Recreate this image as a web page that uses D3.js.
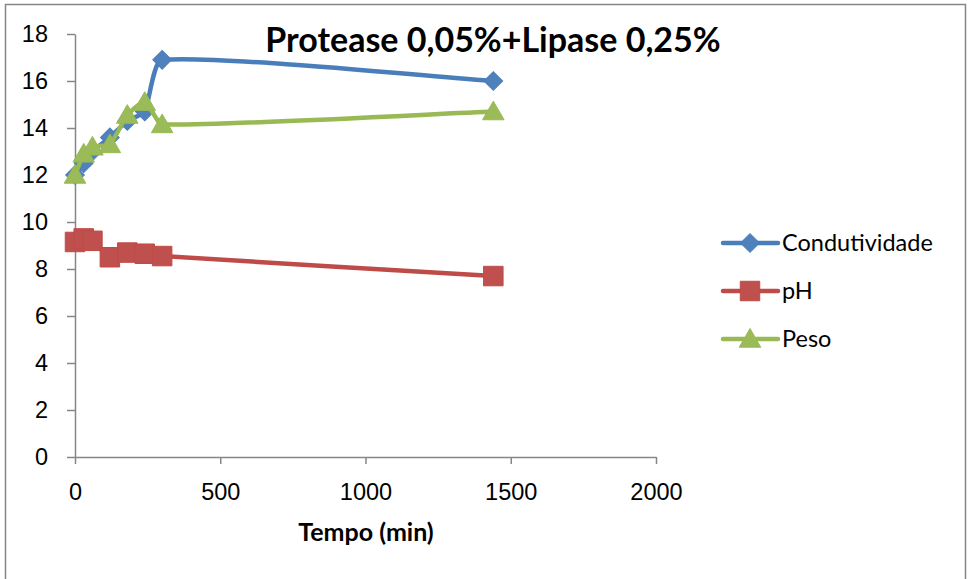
<!DOCTYPE html>
<html>
<head>
<meta charset="utf-8">
<script src="https://cdn.jsdelivr.net/npm/d3@7"></script>
<style>
	body { margin: 0; background: #fff; }
	svg { font-family: Lato, 'Open Sans', sans-serif; }
	.axis path, .axis line { stroke: #868686; stroke-width: 1.5; }
	.axis text { font-size: 23.5px; fill: #000; }
</style>
</head>
<body>
<div id="chart"></div>
<script>
var tempo = [0, 30, 60, 120, 180, 240, 300, 1440];
var condutividade = [12.0, 12.5, 13.0, 13.6, 14.3, 14.7, 16.9, 16.0];
var ph = [9.15, 9.3, 9.2, 8.5, 8.7, 8.65, 8.55, 7.7];
var peso = [12.0, 12.9, 13.2, 13.3, 14.55, 15.1, 14.15, 14.7];
var seriesNames = ['Condutividade', 'pH', 'Peso'];
var xTicks = [0, 500, 1000, 1500, 2000];
var yTicks = [0, 2, 4, 6, 8, 10, 12, 14, 16, 18];
var title = 'Protease 0,05%+Lipase 0,25%';
var xTitle = 'Tempo (min)';

var width = 970, height = 579;
var plot = { left: 75, right: 656, top: 34, bottom: 457 };

var lineColors = ['#4A7EBB', '#BE4B48', '#98B954'];
var markColors = ['#4F81BD', '#C0504D', '#9BBB59'];
var symbols = [d3.symbolSquare, d3.symbolSquare, d3.symbolTriangle];
var symSizes = [175, 380, 200];
var symRotate = [45, 0, 0];
var symShift = [0, 0, 2];

function markTransform(px, py, i) {
	return 'translate(' + px + ',' + (py + symShift[i]) + ') rotate(' + symRotate[i] + ')';
}

// excel-like smoothing: tangent along neighbours, handle length scaled by own segment
function smoothPath(pts) {
	var k = 1 / 6;
	function tangent(i) {
		var a = pts[Math.max(i - 1, 0)], b = pts[Math.min(i + 1, pts.length - 1)];
		var dx = b[0] - a[0], dy = b[1] - a[1];
		var len = Math.sqrt(dx * dx + dy * dy) || 1;
		return [dx / len, dy / len];
	}
	var p = d3.path();
	p.moveTo(pts[0][0], pts[0][1]);
	for (var i = 0; i < pts.length - 1; i++) {
		var p0 = pts[i], p1 = pts[i + 1];
		var seg = Math.sqrt(Math.pow(p1[0] - p0[0], 2) + Math.pow(p1[1] - p0[1], 2));
		var t0 = tangent(i), t1 = tangent(i + 1);
		p.bezierCurveTo(
			p0[0] + t0[0] * seg * k, p0[1] + t0[1] * seg * k,
			p1[0] - t1[0] * seg * k, p1[1] - t1[1] * seg * k,
			p1[0], p1[1]);
	}
	return p.toString();
}

var svg = d3.select('#chart').append('svg')
	.attr('width', width)
	.attr('height', height);

// chart border
svg.append('rect')
	.attr('x', 5.5).attr('y', 4.5)
	.attr('width', 960).attr('height', 590)
	.attr('fill', 'none')
	.attr('stroke', '#868686')
	.attr('stroke-width', 1.5);

var x = d3.scaleLinear().domain([0, 2000]).range([plot.left, plot.right]);
var y = d3.scaleLinear().domain([0, 18]).range([plot.bottom, plot.top]);

svg.append('g')
	.attr('class', 'x axis')
	.attr('transform', 'translate(0,' + plot.bottom + ')')
	.call(d3.axisBottom(x).tickValues(xTicks).tickFormat(d3.format('d'))
		.tickSize(7).tickPadding(19).tickSizeOuter(0))
	.selectAll('text').attr('dy', '0.71em');

svg.append('g')
	.attr('class', 'y axis')
	.attr('transform', 'translate(' + plot.left + ',0)')
	.call(d3.axisLeft(y).tickValues(yTicks).tickSize(8).tickPadding(19).tickSizeOuter(0));

var data = [condutividade, ph, peso].map(function(vals, i) {
	return tempo.map(function(t, j) { return { t: t, v: vals[j], s: i }; });
});

var group = svg.selectAll('.series')
	.data(data)
	.enter().append('g')
	.attr('class', 'series');

group.append('path')
	.attr('d', function(d) { return smoothPath(d.map(function(p) { return [x(p.t), y(p.v)]; })); })
	.attr('fill', 'none')
	.attr('stroke', function(d, i) { return lineColors[i]; })
	.attr('stroke-width', 4.5)
	.attr('stroke-linejoin', 'round');

group.selectAll('.mark')
	.data(function(d) { return d; })
	.enter().append('path')
	.attr('class', 'mark')
	.attr('transform', function(d) { return markTransform(x(d.t), y(d.v), d.s); })
	.attr('d', function(d) { return d3.symbol().type(symbols[d.s]).size(symSizes[d.s])(); })
	.attr('fill', function(d) { return markColors[d.s]; })
	.attr('stroke', function(d) { return lineColors[d.s]; })
	.attr('stroke-width', 1);

// title
svg.append('text')
	.attr('x', 493).attr('y', 52)
	.attr('text-anchor', 'middle')
	.style('font-size', '34px')
	.style('font-weight', 'bold')
	.text(title);

svg.append('text')
	.attr('x', 366).attr('y', 541)
	.attr('text-anchor', 'middle')
	.style('font-size', '25px')
	.style('font-weight', 'bold')
	.text(xTitle);

// legend
var legend = svg.selectAll('.legend')
	.data(seriesNames)
	.enter().append('g')
	.attr('class', 'legend')
	.attr('transform', function(d, i) { return 'translate(723,' + (243 + i * 48) + ')'; });

legend.append('line')
	.attr('x1', 0).attr('x2', 55)
	.attr('stroke', function(d, i) { return lineColors[i]; })
	.attr('stroke-width', 4.5)
	.attr('stroke-linecap', 'round');

legend.append('path')
	.attr('transform', function(d, i) { return markTransform(27, 0, i); })
	.attr('d', function(d, i) { return d3.symbol().type(symbols[i]).size(symSizes[i])(); })
	.attr('fill', function(d, i) { return markColors[i]; })
	.attr('stroke', function(d, i) { return lineColors[i]; });

legend.append('text')
	.attr('x', 59).attr('y', 0)
	.attr('dy', '0.36em')
	.style('font-size', '23.5px')
	.text(function(d) { return d; });
</script>
</body>
</html>
